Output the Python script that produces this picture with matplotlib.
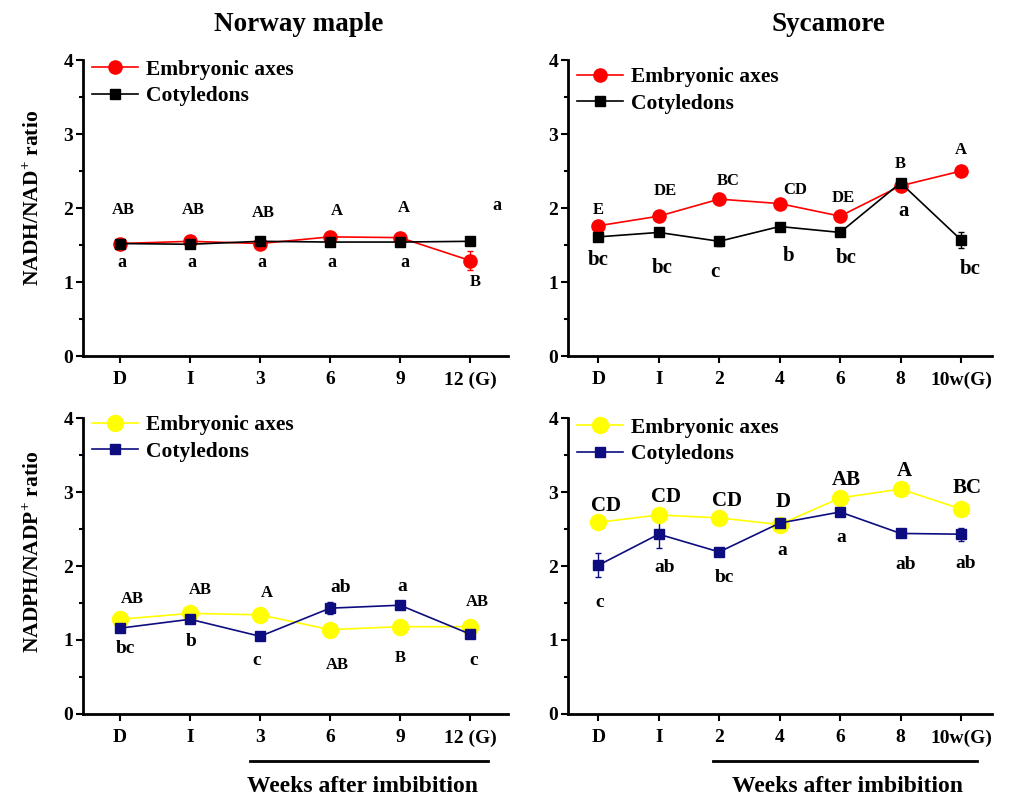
import matplotlib
matplotlib.use('Agg')
import matplotlib.pyplot as plt
import matplotlib.transforms as mtransforms

plt.rcParams['font.family'] = ['Liberation Serif', 'DejaVu Serif']
plt.rcParams['font.weight'] = 'bold'
plt.rcParams['mathtext.fontset'] = 'custom'
plt.rcParams['mathtext.rm'] = 'Liberation Serif:bold'
plt.rcParams['mathtext.bf'] = 'Liberation Serif:bold'

# categorias do eixo x
ticksMaple = ['D', 'I', '3', '6', '9', '12 (G)']
ticksSyc = ['D', 'I', '2', '4', '6', '8', '10w(G)']

# NADH/NAD+ - Norway maple
nadhMapleEmb = [1.52, 1.55, 1.52, 1.61, 1.60, 1.29]
nadhMapleEmbErr = [0.02, 0.03, 0.02, 0.03, 0.03, 0.13]
nadhMapleCot = [1.52, 1.51, 1.55, 1.54, 1.54, 1.55]
nadhMapleCotErr = [0.02, 0.02, 0.02, 0.02, 0.02, 0.03]
letrasMapleNadhEmb = ['AB', 'AB', 'AB', 'A', 'A', 'B']
letrasMapleNadhCot = ['a', 'a', 'a', 'a', 'a', 'a']

# NADH/NAD+ - Sycamore
nadhSycEmb = [1.76, 1.89, 2.12, 2.06, 1.89, 2.30, 2.50]
nadhSycEmbErr = [0.03, 0.03, 0.03, 0.03, 0.03, 0.03, 0.03]
nadhSycCot = [1.61, 1.67, 1.55, 1.75, 1.67, 2.34, 1.57]
nadhSycCotErr = [0.03, 0.03, 0.06, 0.03, 0.03, 0.03, 0.11]
letrasSycNadhEmb = ['E', 'DE', 'BC', 'CD', 'DE', 'B', 'A']
letrasSycNadhCot = ['bc', 'bc', 'c', 'b', 'bc', 'a', 'bc']

# NADPH/NADP+ - Norway maple
nadphMapleEmb = [1.28, 1.36, 1.34, 1.14, 1.18, 1.18]
nadphMapleEmbErr = [0.03, 0.03, 0.03, 0.03, 0.03, 0.03]
nadphMapleCot = [1.16, 1.28, 1.05, 1.43, 1.47, 1.08]
nadphMapleCotErr = [0.03, 0.04, 0.03, 0.08, 0.05, 0.03]
letrasMapleNadphEmb = ['AB', 'AB', 'A', 'AB', 'B', 'AB']
letrasMapleNadphCot = ['bc', 'b', 'c', 'ab', 'a', 'c']

# NADPH/NADP+ - Sycamore
nadphSycEmb = [2.59, 2.69, 2.65, 2.56, 2.92, 3.04, 2.77]
nadphSycEmbErr = [0.03, 0.03, 0.03, 0.05, 0.03, 0.03, 0.03]
nadphSycCot = [2.01, 2.43, 2.19, 2.58, 2.73, 2.44, 2.43]
nadphSycCotErr = [0.16, 0.18, 0.04, 0.07, 0.06, 0.05, 0.09]
letrasSycNadphEmb = ['CD', 'CD', 'CD', 'D', 'AB', 'A', 'BC']
letrasSycNadphCot = ['c', 'ab', 'bc', 'a', 'a', 'ab', 'ab']

# posicao (x, y) das letras de significancia em cada painel
posMapleNadhEmb = [(0.05, 1.97), (0.05, 1.97), (0.05, 1.93), (0.1, 1.96), (0.05, 2.0), (0.07, 1.0)]
posMapleNadhCot = [(0.03, 1.26), (0.03, 1.26), (0.03, 1.26), (0.03, 1.26), (0.07, 1.26), (0.38, 2.03)]
posSycNadhEmb = [(0.0, 1.97), (0.1, 2.23), (0.15, 2.36), (0.25, 2.24), (0.05, 2.14), (0.0, 2.59), (0.0, 2.79)]
posSycNadhCot = [(0.0, 1.30), (0.05, 1.19), (-0.07, 1.14), (0.15, 1.35), (0.1, 1.32), (0.05, 1.96), (0.15, 1.17)]
posMapleNadphEmb = [(0.18, 1.56), (0.15, 1.68), (0.1, 1.64), (0.1, 0.66), (0.0, 0.75), (0.1, 1.51)]
posMapleNadphCot = [(0.07, 0.88), (0.02, 0.98), (-0.05, 0.72), (0.15, 1.71), (0.03, 1.72), (0.05, 0.72)]
posSycNadphEmb = [(0.13, 2.81), (0.12, 2.93), (0.13, 2.88), (0.05, 2.86), (0.1, 3.16), (0.07, 3.29), (0.1, 3.06)]
posSycNadphCot = [(0.03, 1.51), (0.1, 1.98), (0.09, 1.84), (0.05, 2.21), (0.02, 2.38), (0.08, 2.02), (0.08, 2.03)]


def painel(ax, ticks, emb, embErr, cot, cotErr, corEmb, corCot, msEmb, msCot,
           letrasEmb, posEmb, letrasCot, posCot, fsEmb, fsCot, xlim, legY):
    x = list(range(len(ticks)))
    ax.errorbar(x, emb, yerr=embErr, fmt='none', ecolor=corEmb, elinewidth=1, capsize=2.5, zorder=2)
    ax.errorbar(x, cot, yerr=cotErr, fmt='none', ecolor=corCot, elinewidth=1, capsize=2.5, zorder=2)
    ax.plot(x, emb, color=corEmb, marker='o', markersize=msEmb, lw=1.2, label='Embryonic axes', zorder=3)
    ax.plot(x, cot, color=corCot, marker='s', markersize=msCot, lw=1.2, label='Cotyledons', zorder=4)
    for i in range(len(x)):
        ax.text(x[i] + posEmb[i][0], posEmb[i][1], letrasEmb[i], ha='center', va='center',
                fontsize=fsEmb, fontweight='bold')
        ax.text(x[i] + posCot[i][0], posCot[i][1], letrasCot[i], ha='center', va='center',
                fontsize=fsCot, fontweight='bold')
    ax.set_xlim(xlim)
    ax.set_ylim(0, 4)
    ax.set_xticks(x)
    ax.set_xticklabels(ticks, fontsize=14, fontweight='bold')
    ax.set_yticks([0, 1, 2, 3, 4])
    ax.set_yticks([0.5, 1.5, 2.5, 3.5], minor=True)
    ax.tick_params(axis='y', labelsize=14, width=1.5, length=5, pad=2)
    ax.tick_params(axis='y', which='minor', width=1.5, length=3)
    ax.tick_params(axis='x', width=1.5, length=5, pad=6)
    ax.spines['top'].set_visible(False)
    ax.spines['right'].set_visible(False)
    ax.spines['left'].set_linewidth(2)
    ax.spines['bottom'].set_linewidth(2)
    leg = ax.legend(loc='upper left', bbox_to_anchor=(0.0, legY), frameon=False,
                    fontsize=15.5, handlelength=2.15, handletextpad=0.37, labelspacing=0.3,
                    borderaxespad=0)
    for t in leg.get_texts():
        t.set_fontweight('bold')


def semanas(ax, x0, x1, dx):
    trans = mtransforms.blended_transform_factory(ax.transData, ax.transAxes)
    ax.plot([x0, x1], [-0.159, -0.159], color='black', lw=2, transform=trans, clip_on=False)
    ax.text((x0 + x1) / 2 + dx, -0.245, 'Weeks after imbibition', transform=trans,
            ha='center', va='center', fontsize=17, fontweight='bold')


fig = plt.figure(figsize=(10.09, 7.95), dpi=100)
ax1 = fig.add_axes([0.0823, 0.5522, 0.421, 0.3723])
ax2 = fig.add_axes([0.563, 0.5522, 0.420, 0.3723])
ax3 = fig.add_axes([0.0823, 0.1019, 0.421, 0.3723])
ax4 = fig.add_axes([0.563, 0.1019, 0.420, 0.3723])

painel(ax1, ticksMaple, nadhMapleEmb, nadhMapleEmbErr, nadhMapleCot, nadhMapleCotErr,
       '#ff0000', '#000000', 9.5, 7.5, letrasMapleNadhEmb, posMapleNadhEmb,
       letrasMapleNadhCot, posMapleNadhCot, 12, 13, (-0.53, 5.54), 1.03)
painel(ax2, ticksSyc, nadhSycEmb, nadhSycEmbErr, nadhSycCot, nadhSycCotErr,
       '#ff0000', '#000000', 9.5, 7.5, letrasSycNadhEmb, posSycNadhEmb,
       letrasSycNadhCot, posSycNadhCot, 12, 15, (-0.5, 6.51), 1.005)
painel(ax3, ticksMaple, nadphMapleEmb, nadphMapleEmbErr, nadphMapleCot, nadphMapleCotErr,
       '#ffff00', '#0d0d80', 11.5, 7.5, letrasMapleNadphEmb, posMapleNadphEmb,
       letrasMapleNadphCot, posMapleNadphCot, 12, 14, (-0.53, 5.54), 1.039)
painel(ax4, ticksSyc, nadphSycEmb, nadphSycEmbErr, nadphSycCot, nadphSycCotErr,
       '#ffff00', '#0d0d80', 11.5, 7.5, letrasSycNadphEmb, posSycNadphEmb,
       letrasSycNadphCot, posSycNadphCot, 15, 14, (-0.5, 6.51), 1.03)

ax1.set_ylabel('NADH/NAD$^{+}$ ratio', fontsize=15.5, fontweight='bold')
ax1.yaxis.set_label_coords(-0.092, 0.534)
ax3.set_ylabel('NADPH/NADP$^{+}$ ratio', fontsize=15.5, fontweight='bold')
ax3.yaxis.set_label_coords(-0.092, 0.547)
ax1.set_title('Norway maple', fontsize=19.5, fontweight='bold', pad=21, x=0.507)
ax2.set_title('Sycamore', fontsize=19.5, fontweight='bold', pad=21, x=0.615)

semanas(ax3, 1.86, 5.26, -0.1)
semanas(ax4, 1.9, 6.26, 0.05)

fig.savefig('out.png', dpi=100)
